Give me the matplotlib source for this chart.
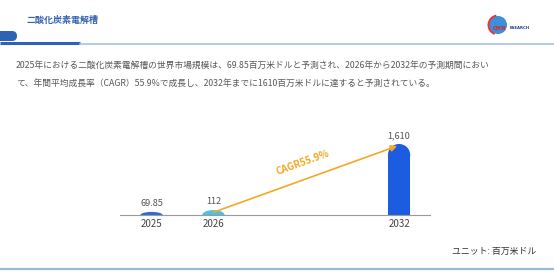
import matplotlib
matplotlib.use("Agg")
import matplotlib.pyplot as plt
from matplotlib.patches import Rectangle, Ellipse, FancyBboxPatch, Circle, Wedge

plt.rcParams["font.family"] = ["Noto Sans CJK JP", "DejaVu Sans"]

# data
years = ["2025", "2026", "2032"]
values = [69.85, 112, 1610]
value_labels = ["69.85", "112", "1,610"]
bar_colors = ["#2f6ccc", "#4cc0e4", "#1b5ce0"]
cagr_text = "CAGR55.9%"

title = "二酸化炭素電解槽"
para_lines = [
    "2025年における二酸化炭素電解槽の世界市場規模は、69.85百万米ドルと予測され、2026年から2032年の予測期間におい",
    "て、年間平均成長率（CAGR）55.9%で成長し、2032年までに1610百万米ドルに達すると予測されている。",
]
unit_text = "ユニット: 百万米ドル"

W, H = 554, 276
fig = plt.figure(figsize=(W / 100, H / 100), dpi=100)

# background / decoration layer in pixel coordinates
bg = fig.add_axes([0, 0, 1, 1])
bg.set_xlim(0, W)
bg.set_ylim(H, 0)
bg.axis("off")

bg.add_patch(FancyBboxPatch((-8, 31), 25, 10, boxstyle="round,pad=0,rounding_size=5",
                            fc="#2d62b4", ec="none"))
bg.plot([0, 80], [43, 43], color="#2d62b4", lw=2.2, solid_capstyle="butt")
bg.plot([80, W], [43.5, 43.5], color="#a9c2e2", lw=1.2)
bg.text(27, 20, title, fontsize=6.5, color="#3263b0", fontweight="bold", va="center")

# logo
bg.add_patch(Circle((498, 25), 9, fc="#3c8fd8", ec="none"))
bg.add_patch(Wedge((498, 25), 10.5, 110, 260, width=2, fc="#e0383a", ec="none"))
bg.text(493, 28, "QYR", fontsize=4.2, color="#d8262b", fontweight="bold", va="center",
        ha="left", family="DejaVu Sans")
bg.text(509.5, 28, "ESEARCH", fontsize=2.8, color="#1e3f8a", fontweight="bold", va="center",
        ha="left", family="DejaVu Sans")

for i, line in enumerate(para_lines):
    bg.text(16, 65 + i * 18, line, fontsize=6.3, color="#585858", va="center")

bg.text(536, 251, unit_text, fontsize=6.4, color="#333333", va="center", ha="right")
bg.plot([0, W], [268.5, 268.5], color="#9db9d8", lw=1.6)

# chart
ax = fig.add_axes([120 / W, (H - 215) / H, 310 / W, 90 / H])
ax.set_facecolor("none")
positions = [0, 1, 4]
bar_w = 0.36
ymax = values[-1] * 90 / 71
ax.set_xlim(-0.51, 4.5)
ax.set_ylim(0, ymax)
for s in ["top", "right", "left"]:
    ax.spines[s].set_visible(False)
ax.spines["bottom"].set_color("#9a9a9a")
ax.spines["bottom"].set_linewidth(0.8)
ax.set_yticks([])
ax.set_xticks(positions)
ax.set_xticklabels(years, fontsize=7, color="#444444")
ax.tick_params(axis="x", length=0, pad=3)

px_per_unit = 90 / ymax
r_units = 11 / px_per_unit
for x, v, c, lab in zip(positions, values, bar_colors, value_labels):
    rv = min(r_units, v)
    base = v - rv
    if base > 0:
        ax.add_patch(Rectangle((x - bar_w / 2, 0), bar_w, base, fc=c, ec="none"))
    ax.add_patch(Ellipse((x, base), bar_w, 2 * rv, fc=c, ec="none"))
    ax.text(x, v + 4 / px_per_unit, lab, ha="center", va="bottom", fontsize=6.6,
            color="#555555")

# CAGR arrow from 2026 to 2032
x0, y0 = positions[1], values[1]
x1, y1 = positions[2] - 0.03, values[2] - 2 / px_per_unit
ax.annotate("", xy=(x1, y1), xytext=(x0, y0 * 0.55),
            arrowprops=dict(arrowstyle="-|>", color="#f4a823", lw=1.2,
                            mutation_scale=9, shrinkA=0, shrinkB=0),
            annotation_clip=False)
ax.text(2.44, 52 / px_per_unit, cagr_text, rotation=20, ha="center", va="center",
        fontsize=7, color="#f4a823", fontweight="bold")

fig.savefig("out.png", dpi=100)
